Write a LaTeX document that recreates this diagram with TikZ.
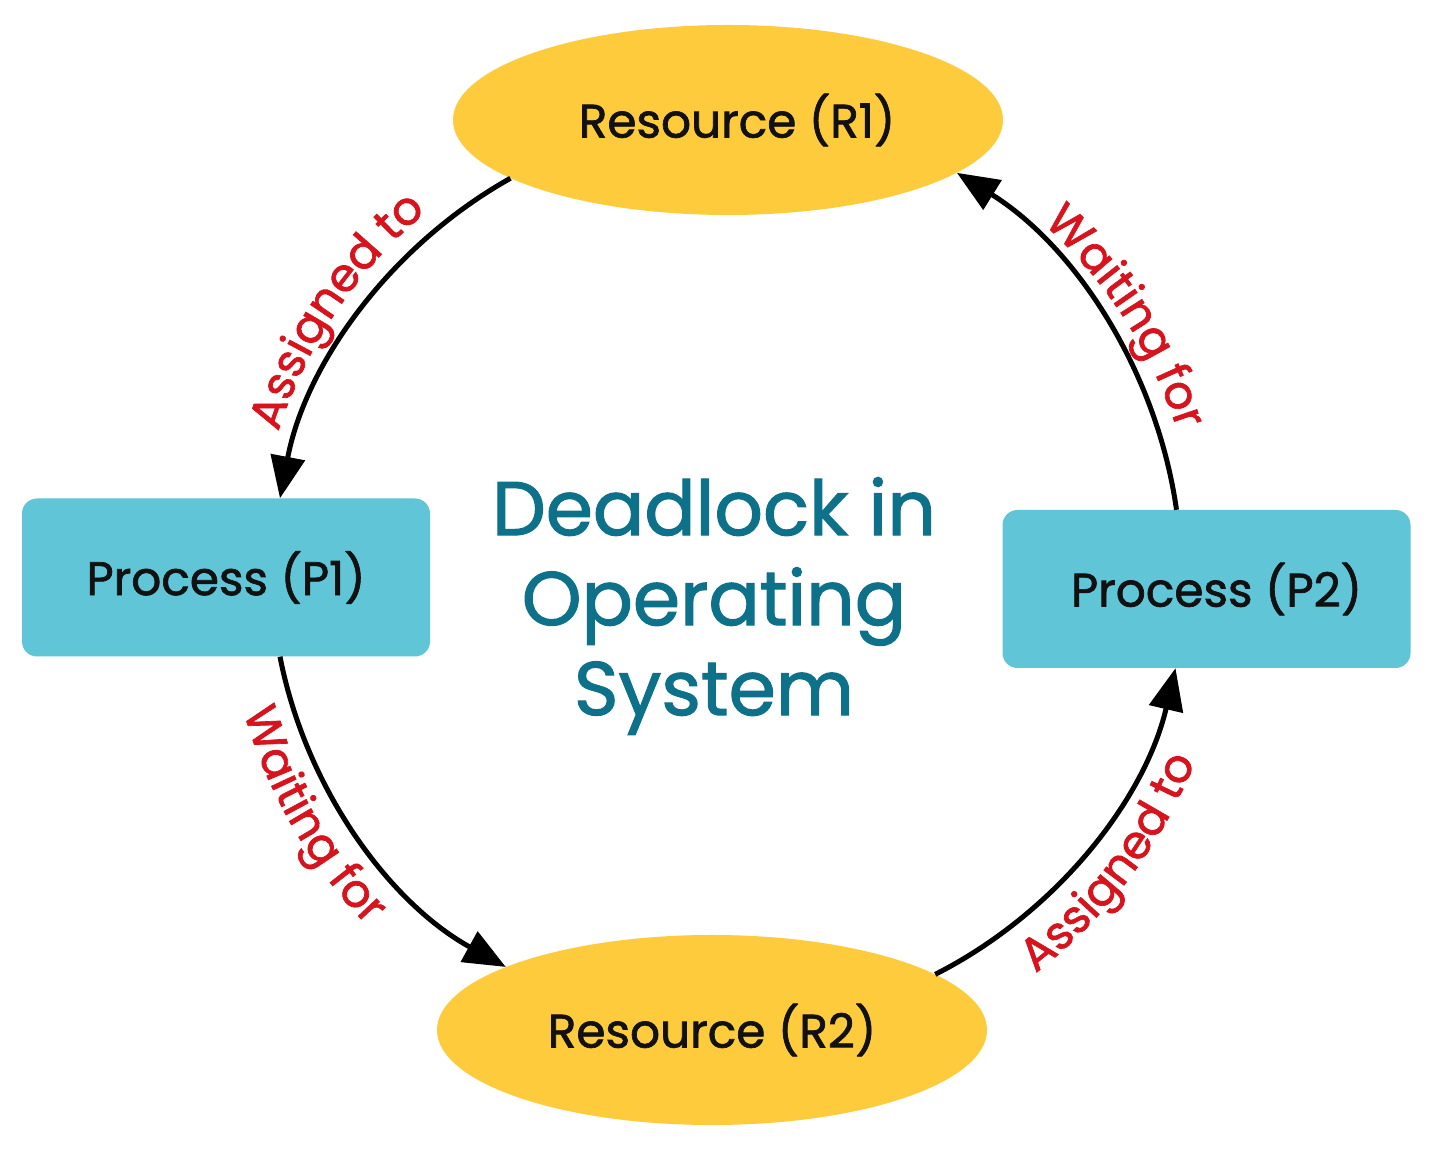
\documentclass[tikz,border=0pt]{standalone}
\usepackage{fontspec}
\setmainfont{Poppins}
\newfontfamily\medfont{Poppins}[FakeBold=1.5]
\usetikzlibrary{shapes.geometric,arrows.meta,decorations.text,calc}
\definecolor{resyellow}{HTML}{FDCB3C}
\definecolor{procteal}{HTML}{5FC5D7}
\definecolor{titleteal}{HTML}{0D7189}
\definecolor{labred}{HTML}{D7141E}
\definecolor{txtblack}{HTML}{111111}
\newcommand\labfont{\medfont\fontsize{46}{46}\selectfont}
\tikzset{
  resource/.style={ellipse, fill=resyellow, minimum width=550pt, minimum height=190pt, inner sep=0pt,
    font=\medfont\fontsize{47}{47}\selectfont, text=txtblack},
  process/.style={rectangle, rounded corners=15pt, fill=procteal, minimum width=408pt, minimum height=158pt,
    inner sep=0pt, font=\medfont\fontsize{47}{47}\selectfont, text=txtblack},
  conn/.style={line width=5pt, -{Triangle[length=42pt,width=34pt]}, bend right=25, looseness=0.89},
  arclabel/.style={decorate, decoration={text along path, text color=labred, text align=center}},
}
\begin{document}
\begin{tikzpicture}[x=1pt,y=1pt]
\useasboundingbox[fill=white] (0,0) rectangle (1432,1150);
\node[resource] (R1) at (728,1030) {\hspace{18pt}Resource (R1)};
\node[resource] (R2) at (712,120) {Resource (R2)};
\node[process] (P1) at (226,572.5) {Process (P1)};
\node[process] (P2) at (1206.5,561) {\hspace{20pt}Process (P2)};
\node[align=center, text=titleteal, font=\medfont\fontsize{76}{90}\selectfont] (T) at (714,544) {Deadlock in\\Operating\\System};
\draw[conn] (R1.195) to ([xshift=54pt]P1.north);
\draw[conn] ([xshift=54pt]P1.south) to (R2.163);
\draw[conn] (R2.14) to ([xshift=-31pt]P2.south);
\draw[conn] ([xshift=-30pt]P2.north) to (R1.-13);
\coordinate (C) at (728,575);
\path[arclabel, decoration={text={|\labfont|Assigned to}}] ($(C)+(178:472)$) arc[start angle=178, end angle=114, radius=472];
\path[arclabel, decoration={text={|\labfont|Waiting for}}] ($(C)+(65:472)$) arc[start angle=65, end angle=1, radius=472];
\path[arclabel, decoration={text={|\labfont|Waiting for}}] ($(C)+(178:503)$) arc[start angle=178, end angle=242, radius=503];
\path[arclabel, decoration={text={|\labfont|Assigned to}}] ($(C)+(-69:503)$) arc[start angle=-69, end angle=-5, radius=503];
\end{tikzpicture}
\end{document}
